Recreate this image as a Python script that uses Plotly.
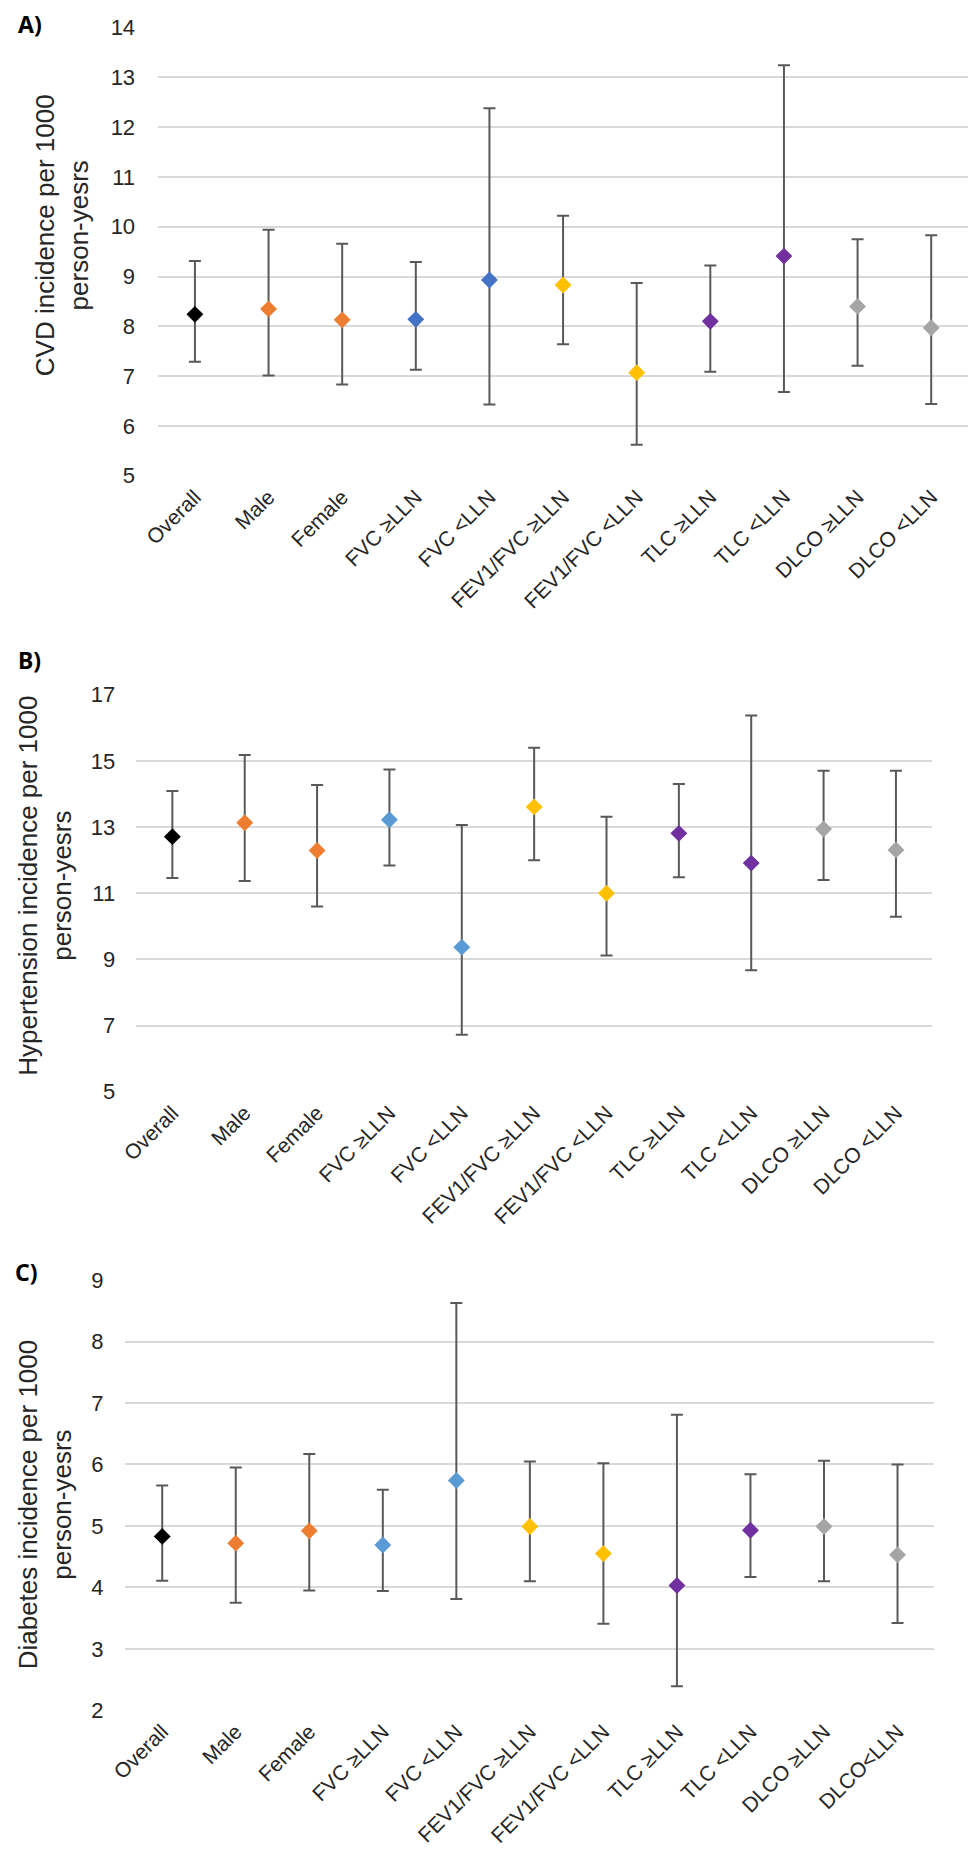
import plotly.graph_objects as go

categories_ab = ["Overall", "Male", "Female", "FVC ≥LLN", "FVC <LLN", "FEV1/FVC ≥LLN",
                 "FEV1/FVC <LLN", "TLC ≥LLN", "TLC <LLN", "DLCO ≥LLN", "DLCO <LLN"]
categories_c = ["Overall", "Male", "Female", "FVC ≥LLN", "FVC <LLN", "FEV1/FVC ≥LLN",
                "FEV1/FVC <LLN", "TLC ≥LLN", "TLC <LLN", "DLCO ≥LLN", "DLCO<LLN"]

# Panel A: CVD
cvd_est = [8.24, 8.35, 8.13, 8.14, 8.93, 8.83, 7.07, 8.10, 9.41, 8.40, 7.97]
cvd_low = [7.29, 7.01, 6.83, 7.13, 6.43, 7.64, 5.62, 7.09, 6.68, 7.21, 6.44]
cvd_up = [9.31, 9.94, 9.66, 9.29, 12.38, 10.22, 8.87, 9.22, 13.24, 9.75, 9.83]

# Panel B: Hypertension
htn_est = [12.71, 13.13, 12.29, 13.22, 9.37, 13.61, 11.00, 12.81, 11.91, 12.94, 12.31]
htn_low = [11.46, 11.37, 10.60, 11.84, 6.72, 12.00, 9.12, 11.48, 8.67, 11.40, 10.29]
htn_up = [14.09, 15.18, 14.27, 14.74, 13.06, 15.40, 13.31, 14.30, 16.37, 14.70, 14.70]

# Panel C: Diabetes
dm_est = [4.83, 4.72, 4.92, 4.69, 5.74, 4.99, 4.55, 4.03, 4.93, 4.99, 4.53]
dm_low = [4.11, 3.75, 3.95, 3.94, 3.81, 4.10, 3.41, 2.39, 4.17, 4.10, 3.42]
dm_up = [5.66, 5.95, 6.17, 5.59, 8.63, 6.05, 6.02, 6.81, 5.84, 6.06, 6.00]

colors_a = ["#000000", "#ED7D31", "#ED7D31", "#4472C4", "#4472C4", "#FFC000",
            "#FFC000", "#7030A0", "#7030A0", "#A5A5A5", "#A5A5A5"]
colors_bc = ["#000000", "#ED7D31", "#ED7D31", "#5B9BD5", "#5B9BD5", "#FFC000",
             "#FFC000", "#7030A0", "#7030A0", "#A5A5A5", "#A5A5A5"]

W, H = 969, 1872
FONT = "Liberation Sans, Arial, sans-serif"

fig = go.Figure()


def add_panel(idx, cats, est, low, up, colors):
    xa = "x" if idx == 1 else f"x{idx}"
    ya = "y" if idx == 1 else f"y{idx}"
    fig.add_trace(go.Scatter(
        x=list(range(len(cats))), y=est, mode="markers",
        xaxis=xa, yaxis=ya,
        marker=dict(symbol="diamond", size=13, color=colors, line=dict(width=0)),
        error_y=dict(type="data", symmetric=False,
                     array=[u - e for u, e in zip(up, est)],
                     arrayminus=[e - l for e, l in zip(est, low)],
                     color="#595959", thickness=2, width=6),
        showlegend=False, hoverinfo="skip",
    ))


add_panel(1, categories_ab, cvd_est, cvd_low, cvd_up, colors_a)
add_panel(2, categories_ab, htn_est, htn_low, htn_up, colors_bc)
add_panel(3, categories_c, dm_est, dm_low, dm_up, colors_bc)


def px_x(p):
    return p / W


def px_y(p):
    return 1 - p / H


panels = [
    # (x left, x right, y top px, y bottom px, range, dtick, cats, standoff)
    (144.5, 968.0, 15.7, 470.0, [5, 14], 1, categories_ab, 22),
    (122.2, 931.5, 692.0, 1094.3, [5, 17], 2, categories_ab, 20),
    (111.3, 933.7, 1285.3, 1721.3, [2, 9], 1, categories_c, 21),
]

for i, (xl, xr, yt, yb, rng, dt, cats, so) in enumerate(panels, start=1):
    sfx = "" if i == 1 else str(i)
    fig.layout["xaxis" + sfx] = dict(
        domain=[px_x(xl), px_x(xr)], anchor="y" + sfx,
        range=[-0.5, len(cats) - 0.5], tickmode="array",
        tickvals=list(range(len(cats))), ticktext=cats, tickangle=-45,
        showgrid=False, zeroline=False, showline=False, ticks="",
        ticklabelstandoff=4,
        tickfont=dict(family=FONT, size=21, color="#262626"),
    )
    fig.layout["yaxis" + sfx] = dict(
        domain=[px_y(yb), px_y(yt)], anchor="x" + sfx,
        range=rng, dtick=dt, tick0=rng[0],
        showgrid=True, gridcolor="#D9D9D9", gridwidth=2,
        zeroline=False, showline=False, ticks="",
        ticklabelstandoff=so,
        tickfont=dict(family=FONT, size=22, color="#262626"),
    )

titles = [
    ("CVD incidence per 1000<br>person-yesrs", 47.5, 226.5),
    ("Hypertension incidence per 1000<br>person-yesrs", 30.0, 886.0),
    ("Diabetes incidence per 1000<br>person-yesrs", 29.0, 1513.0),
]
for txt, xp, yp in titles:
    fig.add_annotation(text=txt, x=px_x(xp), y=px_y(yp), xref="paper", yref="paper",
                       xanchor="center", yanchor="middle", textangle=-90, showarrow=False,
                       font=dict(family=FONT, size=26, color="#262626"))

labels = [("A)", 0, 12.5), ("B)", 0, 657), ("C)", -3, 1277)]
for txt, xp, yp in labels:
    fig.add_annotation(text="<b>" + txt + "</b>", x=px_x(xp), y=px_y(yp), xref="paper",
                       yref="paper", xanchor="left", yanchor="middle", showarrow=False,
                       font=dict(family="Noto Sans, Open Sans, sans-serif", size=23,
                                 color="#000000"))

fig.update_layout(
    width=W, height=H, margin=dict(l=0, r=0, t=0, b=0),
    paper_bgcolor="white", plot_bgcolor="white",
)

fig.write_html("out.html")
